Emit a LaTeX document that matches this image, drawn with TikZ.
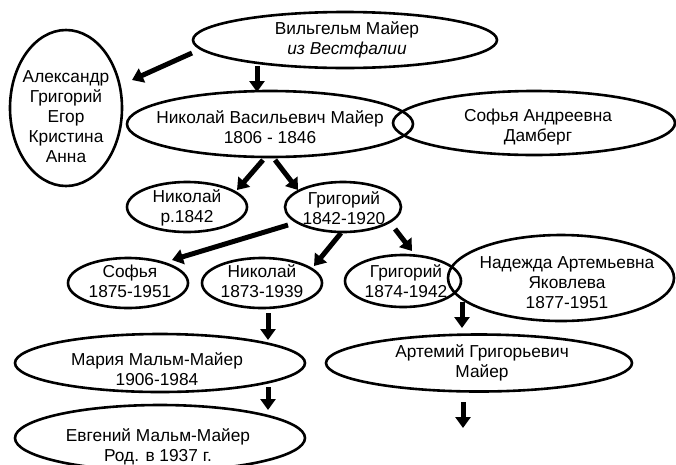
\documentclass[tikz,border=0pt]{standalone}
\usepackage{fontspec}
\setmainfont{Liberation Sans}
\usetikzlibrary{shapes.geometric,arrows.meta,calc}
\begin{document}
\begin{tikzpicture}[x=1pt,y=-1pt,
  oval/.style={draw,ellipse,line width=2.6pt,inner sep=0pt},
  lbl/.style={align=center,inner sep=0pt,font=\fontsize{17.3}{20}\selectfont},
  arr/.style={line width=5pt,-{Triangle[width=15pt,length=11pt]}}]
\useasboundingbox (0,0) rectangle (676,464);
% ellipses
\node[oval,minimum width=304pt,minimum height=56pt] (w) at (345,40) {};
\node[oval,minimum width=112pt,minimum height=156pt] (alex) at (66,108) {};
\node[oval,minimum width=286pt,minimum height=66pt] (nv) at (270,124) {};
\node[oval,minimum width=282pt,minimum height=64pt] (sad) at (534,123) {};
\node[oval,minimum width=120pt,minimum height=50pt] (n42) at (187,207) {};
\node[oval,minimum width=116pt,minimum height=50pt] (g42) at (343,207) {};
\node[oval,minimum width=120pt,minimum height=50pt] (s75) at (128,283) {};
\node[oval,minimum width=120pt,minimum height=50pt] (n73) at (262,283) {};
\node[oval,minimum width=116pt,minimum height=52pt] (g74) at (403,281) {};
\node[oval,minimum width=226pt,minimum height=86pt] (nad) at (561,278) {};
\node[oval,minimum width=290pt,minimum height=58pt] (mar) at (160,363) {};
\node[oval,minimum width=290pt,minimum height=66pt] (evg) at (160,438) {};
\node[oval,minimum width=306pt,minimum height=57pt] (art) at (479,363) {};
% texts
\node[lbl] (tw) at (347,40) {Вильгельм Майер\\\textit{из Вестфалии}};
\node[lbl] (talex) at (66,117) {Александр\\Григорий\\Егор\\Кристина\\Анна};
\node[lbl] (tnv) at (270,127) {Николай Васильевич Майер\\1806 - 1846};
\node[lbl] (tsad) at (538,127) {Софья Андреевна\\Дамберг};
\node[lbl] (tn42) at (187,208) {Николай\\р.1842};
\node[lbl] (tg42) at (344,208) {Григорий\\1842-1920};
\node[lbl] (ts75) at (130,281) {Софья\\1875-1951};
\node[lbl] (tn73) at (262,281) {Николай\\1873-1939};
\node[lbl] (tg74) at (406,281) {Григорий\\1874-1942};
\node[lbl] (tnad) at (567,283) {Надежда Артемьевна\\Яковлева\\1877-1951};
\node[lbl] (tmar) at (157,369) {Мария Мальм-Майер\\1906-1984};
\node[lbl] (tevg) at (158,447) {Евгений Мальм-Майер\\Род. в 1937 г.};
\node[lbl] (tart) at (482,363) {Артемий Григорьевич\\Майер};
% arrows
\draw[arr] ($(w)+(-153,13)$) -- ($(alex)+(66,-28)$);
\draw[arr] ($(w)+(-88,26)$) -- ($(nv)+(-13,-32)$);
\draw[arr] ($(nv)+(-7,36)$) -- ($(n42)+(50,-17)$);
\draw[arr] ($(nv)+(5,36)$) -- ($(g42)+(-45,-17)$);
\draw[arr] ($(g42)+(-55,18)$) -- ($(s75)+(44,-23)$);
\draw[arr] ($(g42)+(-2,26)$) -- ($(n73)+(52,-17)$);
\draw[arr] ($(g42)+(52,22)$) -- ($(g74)+(9,-30)$);
\draw[arr] ($(n73)+(6,30)$) -- ($(mar)+(108,-23)$);
\draw[arr] ($(mar)+(108,24)$) -- ($(evg)+(108,-28)$);
\draw[arr] ($(g74)+(59,21)$) -- ($(art)+(-17,-35)$);
\coordinate (next) at (463,428);
\draw[arr] ($(art)+(-16,39)$) -- (next);
\end{tikzpicture}
\end{document}
